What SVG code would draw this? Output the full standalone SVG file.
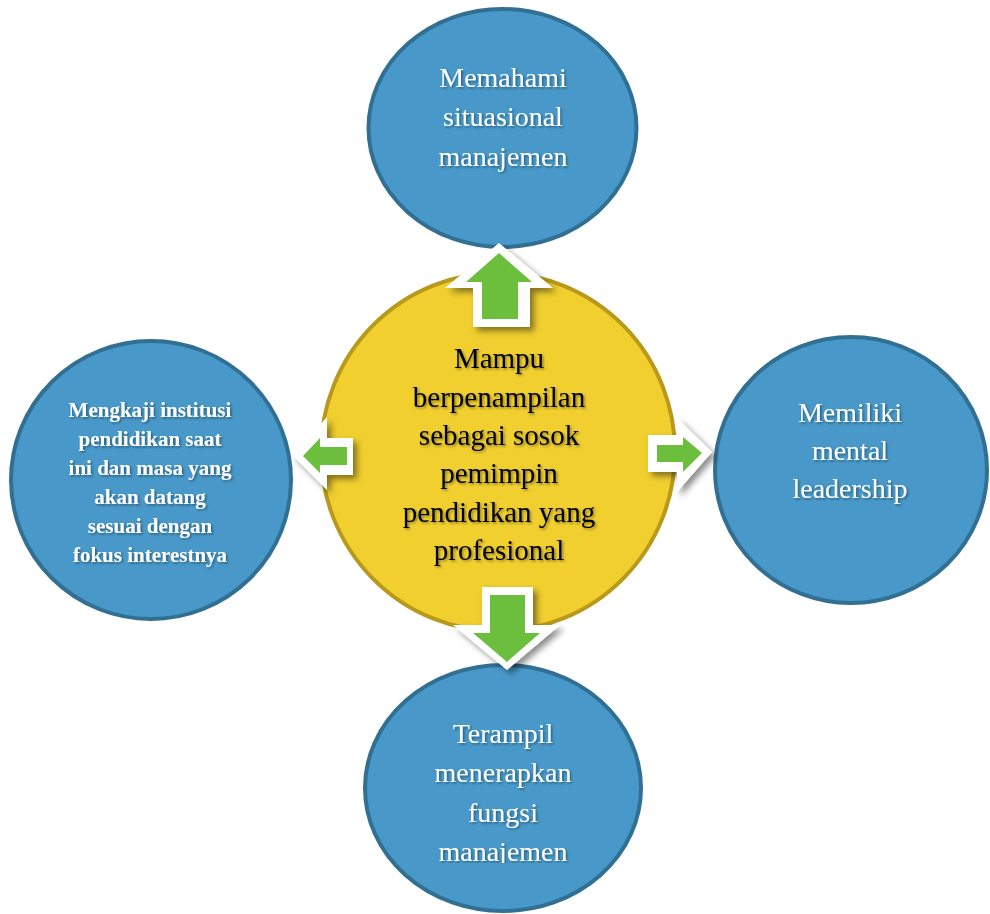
<svg xmlns="http://www.w3.org/2000/svg" width="990" height="914" viewBox="0 0 990 914">
  <defs>
    <filter id="txtShadow" x="-10%" y="-20%" width="120%" height="150%">
      <feDropShadow dx="1.5" dy="1.5" stdDeviation="1" flood-color="#000" flood-opacity="0.4"/>
    </filter>
    <filter id="arrowShadow" x="-20%" y="-20%" width="150%" height="150%">
      <feDropShadow dx="4" dy="4" stdDeviation="3" flood-color="#000" flood-opacity="0.45"/>
    </filter>
    <clipPath id="bottomClip">
      <rect x="0" y="0" width="990" height="863"/>
    </clipPath>
  </defs>
  <style>
    .blue { fill: #4899c9; stroke: #316f93; stroke-width: 4; }
    .yellow { fill: #f0cf2f; stroke: #b8991b; stroke-width: 4; }
    .outer { fill: #ffffff; filter: url(#arrowShadow); }
    .inner { fill: #6cbf3d; }
    .lbl { font-family: "Liberation Serif", "Times New Roman", serif; font-size: 28px; text-anchor: middle; filter: url(#txtShadow); }
    .white { fill: #ffffff; }
    .dark { fill: #000000; font-size: 29px; }
    .small { font-size: 21px; font-weight: bold; }
  </style>

  <rect width="990" height="914" fill="#ffffff"/>

  <g id="node-top">
    <ellipse class="blue" cx="502.5" cy="128" rx="134" ry="119"/>
    <text class="lbl white" x="503" y="87">Memahami</text>
    <text class="lbl white" x="503" y="126">situasional</text>
    <text class="lbl white" x="503" y="166">manajemen</text>
  </g>

  <g id="node-left">
    <ellipse class="blue" cx="151" cy="480" rx="140" ry="139"/>
    <text class="lbl white small" x="150" y="417">Mengkaji institusi</text>
    <text class="lbl white small" x="150" y="446">pendidikan saat</text>
    <text class="lbl white small" x="150" y="475">ini dan masa yang</text>
    <text class="lbl white small" x="150" y="504">akan datang</text>
    <text class="lbl white small" x="150" y="533">sesuai dengan</text>
    <text class="lbl white small" x="150" y="562">fokus interestnya</text>
  </g>

  <g id="node-right">
    <ellipse class="blue" cx="851" cy="470" rx="136" ry="133"/>
    <text class="lbl white" x="850" y="422">Memiliki</text>
    <text class="lbl white" x="850" y="460">mental</text>
    <text class="lbl white" x="850" y="498">leadership</text>
  </g>

  <g id="node-bottom">
    <ellipse class="blue" cx="503" cy="788" rx="138" ry="123"/>
    <g clip-path="url(#bottomClip)">
      <text class="lbl white" x="503" y="743">Terampil</text>
      <text class="lbl white" x="503" y="782">menerapkan</text>
      <text class="lbl white" x="503" y="822">fungsi</text>
      <text class="lbl white" x="503" y="861">manajemen</text>
    </g>
  </g>

  <g id="node-center">
    <ellipse class="yellow" cx="498" cy="452" rx="177" ry="179"/>
    <text class="lbl dark" x="499" y="368">Mampu</text>
    <text class="lbl dark" x="499" y="407">berpenampilan</text>
    <text class="lbl dark" x="499" y="445">sebagai sosok</text>
    <text class="lbl dark" x="499" y="483">pemimpin</text>
    <text class="lbl dark" x="499" y="522">pendidikan yang</text>
    <text class="lbl dark" x="499" y="560">profesional</text>
  </g>

  <g id="connectors">
    <!-- up -->
    <polygon class="outer" points="499,243 553,288 530,288 530,327 473,327 473,288 445,288"/>
    <polygon class="inner" points="499,253 532,282 518,282 518,319 482,319 482,282 466,282"/>
    <!-- left -->
    <polygon class="outer" points="292,455 327,417 327,438 353,438 353,475 327,475 327,490"/>
    <polygon class="inner" points="303,456 320,438 320,447 347,447 347,465 320,465 320,473"/>
    <!-- right -->
    <polygon class="outer" points="712,452 677,418 677,435 648,435 648,472 677,472 677,492"/>
    <polygon class="inner" points="702,453 683,437 683,445 657,445 657,462 683,462 683,472"/>
    <!-- down -->
    <polygon class="outer" points="507,670 560,625 533,625 533,587 482,587 482,625 453,625"/>
    <polygon class="inner" points="507,662 540,633 525,633 525,595 490,595 490,633 473,633"/>
  </g>
</svg>
